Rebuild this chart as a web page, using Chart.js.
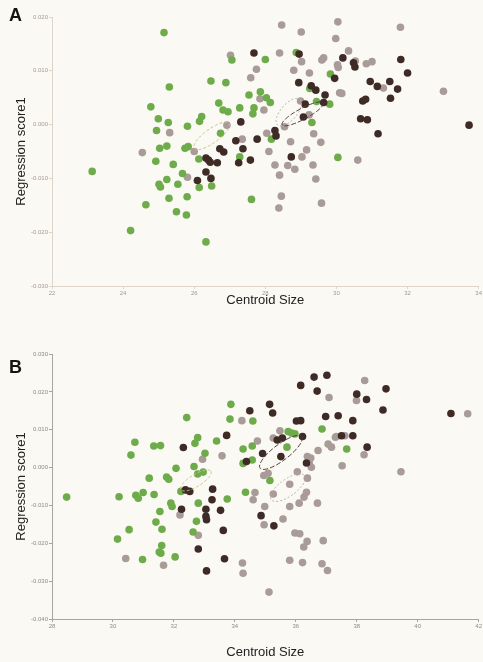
<!DOCTYPE html>
<html>
<head>
<meta charset="utf-8">
<script src="https://cdn.jsdelivr.net/npm/chart.js@4.4.0/dist/chart.umd.min.js"></script>
<style>
  body { margin: 0; background: #fbf9f3; }
  #wrap { position: relative; width: 483px; height: 662px; font-family: "Liberation Sans", Arial, sans-serif; }
  #wrap canvas { position: absolute; left: 0; }
  .tag { position: absolute; left: 9px; font-weight: bold; font-size: 18px; line-height: 1; color: #151515; }
</style>
</head>
<body>
<div id="wrap">
  <canvas id="chartA" width="483" height="330" style="top:0"></canvas>
  <canvas id="chartB" width="483" height="332" style="top:330px"></canvas>
  <div class="tag" style="top:6px">A</div>
  <div class="tag" style="top:358px">B</div>
</div>
<script>
// Panel A: centroid size vs regression score, three groups
const aGreen = [
  [25.15,0.0171],[25.30,0.0070],[24.78,0.0033],[24.99,0.0011],[25.27,0.0004],[25.81,-0.0003],
  [24.94,-0.0011],[25.03,-0.0044],[25.23,-0.0040],[25.74,-0.0044],[25.83,-0.0041],[24.92,-0.0068],
  [25.41,-0.0074],[25.67,-0.0091],[23.13,-0.0087],[25.23,-0.0102],[25.01,-0.0111],[25.05,-0.0116],
  [25.54,-0.0111],[25.29,-0.0137],[25.80,-0.0134],[24.64,-0.0149],[25.50,-0.0162],[25.78,-0.0168],
  [24.21,-0.0197],[26.13,-0.0064],[26.15,0.0006],[26.21,0.0015],[27.06,0.0120],[28.00,0.0121],
  [28.87,0.0134],[29.83,0.0094],[26.47,0.0081],[26.89,0.0078],[29.25,0.0067],[27.86,0.0061],
  [27.54,0.0055],[28.03,0.0050],[28.14,0.0041],[26.69,0.0040],[26.81,0.0027],[26.95,0.0024],
  [27.28,0.0031],[27.68,0.0031],[27.65,0.0020],[29.44,0.0043],[29.81,0.0038],[29.31,0.0004],
  [26.74,-0.0016],[28.17,-0.0027],[27.28,-0.0060],[26.14,-0.0117],[26.49,-0.0114],[27.61,-0.0139],
  [30.04,-0.0061],[26.33,-0.0218]
];
const aGray = [
  [25.31,-0.0015],[24.54,-0.0052],[26.00,-0.0050],[25.81,-0.0098],[28.46,0.0185],[29.01,0.0172],
  [29.98,0.0160],[27.02,0.0129],[28.40,0.0133],[29.02,0.0117],[29.64,0.0124],[29.59,0.0120],
  [27.75,0.0103],[27.59,0.0087],[28.80,0.0101],[29.24,0.0096],[30.03,0.0111],[27.85,0.0048],
  [27.96,0.0027],[28.99,0.0044],[29.23,0.0018],[26.92,-0.0001],[28.54,-0.0004],[28.04,-0.0016],
  [27.35,-0.0027],[28.71,-0.0032],[29.36,-0.0017],[29.56,-0.0033],[28.10,-0.0050],[29.16,-0.0047],
  [29.03,-0.0060],[28.27,-0.0075],[28.63,-0.0076],[28.83,-0.0083],[29.34,-0.0075],[28.40,-0.0094],
  [29.42,-0.0101],[28.45,-0.0133],[28.38,-0.0155],[29.58,-0.0146],[30.09,0.0059],[30.15,0.0058],
  [30.04,0.0191],[31.80,0.0181],[30.34,0.0137],[30.53,0.0118],[30.84,0.0113],[31.00,0.0117],
  [30.05,0.0106],[31.32,0.0068],[33.01,0.0062],[30.60,-0.0066]
];
const aDark = [
  [26.09,-0.0104],[27.68,0.0133],[28.95,0.0131],[29.95,0.0086],[28.94,0.0078],[29.29,0.0072],
  [29.42,0.0064],[29.68,0.0055],[29.64,0.0041],[29.12,0.0038],[29.07,0.0014],[27.31,0.0005],
  [28.27,-0.0011],[28.30,-0.0021],[27.17,-0.0030],[27.77,-0.0027],[27.37,-0.0045],[26.72,-0.0045],
  [26.83,-0.0051],[26.33,-0.0062],[26.40,-0.0066],[26.45,-0.0070],[26.65,-0.0071],[27.25,-0.0071],
  [27.58,-0.0066],[28.73,-0.0060],[26.33,-0.0088],[26.47,-0.0100],[30.18,0.0124],[30.48,0.0115],
  [30.52,0.0107],[31.81,0.0121],[32.00,0.0096],[30.95,0.0080],[31.15,0.0071],[31.50,0.0080],
  [31.72,0.0066],[31.52,0.0049],[30.74,0.0044],[30.82,0.0047],[30.68,0.0011],[30.87,0.0009],
  [31.17,-0.0017],[33.73,-0.0001]
];
// group ellipses: centre, major half-axis, minor half-axis (data units)
const aRings = [
  { group: 'green', c: [26.49,-0.0021], a: [0.490,0.00232], b: [0.114,-0.00106] },
  { group: 'gray',  c: [28.66,0.0023],  a: [0.315,0.00238], b: [0.169,-0.00098] },
  { group: 'dark',  c: [29.05,0.0020],  a: [0.576,0.00204], b: [0.073,-0.00089] }
];
const aXTicks = [22, 34, 2];
const aYTicks = [-0.03, 0.02, 0.01];

// Panel B
const bGreen = [
  [32.42,0.0132],[30.72,0.0067],[30.59,0.0033],[31.34,0.0057],[31.56,0.0058],[32.69,0.0064],
  [32.78,0.0079],[32.07,-0.0002],[31.19,-0.0028],[31.76,-0.0025],[31.83,-0.0031],[32.66,0.0003],
  [32.78,-0.0017],[28.48,-0.0078],[30.20,-0.0077],[30.75,-0.0073],[30.83,-0.0081],[30.99,-0.0066],
  [31.35,-0.0071],[31.90,-0.0094],[31.94,-0.0103],[32.23,-0.0063],[32.80,-0.0094],[31.54,-0.0116],
  [31.41,-0.0144],[31.61,-0.0163],[30.53,-0.0164],[30.15,-0.0189],[32.63,-0.0170],[32.74,-0.0142],
  [31.60,-0.0206],[31.52,-0.0223],[31.57,-0.0226],[30.97,-0.0243],[32.04,-0.0236],[33.87,0.0167],
  [33.84,0.0128],[34.59,0.0123],[33.40,0.0070],[34.27,0.0049],[34.57,0.0057],[34.27,0.0011],
  [34.57,0.0020],[35.75,0.0095],[35.86,0.0091],[35.97,0.0089],[35.71,0.0054],[35.15,-0.0034],
  [34.35,-0.0065],[33.75,-0.0083],[33.02,0.0038],[32.96,-0.0012],[36.86,0.0102],[37.67,0.0049]
];
const bGray = [
  [30.42,-0.0240],[31.66,-0.0258],[32.20,-0.0125],[32.80,-0.0179],[37.09,0.0185],[34.23,0.0124],
  [35.48,0.0097],[35.26,0.0078],[34.74,0.0070],[33.58,0.0031],[36.38,0.0029],[36.49,0.0025],
  [36.44,0.0012],[36.51,0.0001],[36.73,0.0045],[37.06,0.0062],[37.17,0.0054],[37.33,0.0082],
  [34.95,-0.0021],[35.09,-0.0015],[36.05,-0.0011],[36.38,-0.0028],[35.80,-0.0044],[35.26,-0.0070],
  [34.66,-0.0066],[34.60,-0.0085],[36.35,-0.0065],[36.27,-0.0078],[36.11,-0.0094],[35.80,-0.0103],
  [36.71,-0.0094],[34.98,-0.0103],[34.96,-0.0151],[35.58,-0.0136],[35.97,-0.0173],[36.13,-0.0175],
  [36.37,-0.0195],[36.26,-0.0210],[36.90,-0.0193],[35.80,-0.0245],[36.22,-0.0251],[36.86,-0.0254],
  [37.04,-0.0272],[34.25,-0.0252],[34.27,-0.0279],[35.12,-0.0329],[32.94,0.0022],[38.26,0.0230],
  [37.99,0.0177],[37.30,0.0080],[37.61,0.0084],[38.24,0.0034],[37.52,0.0005],[39.45,-0.0011],
  [41.64,0.0142]
];
const bDark = [
  [32.31,0.0053],[32.38,-0.0059],[32.52,-0.0063],[32.25,-0.0110],[32.80,-0.0215],[36.60,0.0239],
  [37.02,0.0244],[36.16,0.0217],[36.70,0.0202],[35.14,0.0167],[34.49,0.0150],[35.24,0.0144],
  [36.02,0.0123],[36.16,0.0124],[36.98,0.0135],[37.39,0.0137],[33.73,0.0085],[35.39,0.0073],
  [35.56,0.0078],[36.22,0.0082],[34.91,0.0037],[35.51,0.0029],[34.38,0.0016],[36.35,0.0012],
  [33.27,-0.0057],[33.25,-0.0085],[33.05,-0.0110],[33.53,-0.0113],[33.05,-0.0129],[33.07,-0.0138],
  [34.86,-0.0127],[35.28,-0.0154],[33.62,-0.0166],[33.66,-0.0241],[33.07,-0.0273],[38.96,0.0208],
  [38.00,0.0194],[38.32,0.0180],[38.86,0.0152],[37.87,0.0124],[37.50,0.0084],[37.87,0.0084],
  [38.34,0.0054],[41.09,0.0143]
];
const bRings = [
  { group: 'green', c: [32.72,-0.0034], a: [0.492,0.00243], b: [0.102,-0.00135] },
  { group: 'dark',  c: [35.51,0.0040],  a: [0.682,0.00417], b: [0.159,-0.00168] },
  { group: 'gray',  c: [35.74,-0.0053], a: [0.547,0.00317], b: [0.163,-0.00182] }
];
const bXTicks = [28, 42, 2];
const bYTicks = [-0.04, 0.03, 0.01];

const dotColors = { green: '#6eac4b', gray: '#a99b97', dark: '#3e2b26' };
const ringStyles = {
  green: { color: '#c9c28e', dash: [3, 2] },
  gray:  { color: '#b9aea9', dash: [2, 2] },
  dark:  { color: '#4d3c37', dash: [5, 2] }
};

// outline each group's ellipse, mapped through the chart scales
function ringPlugin(rings) {
  return {
    id: 'rings',
    afterDatasetsDraw(chart) {
      const { ctx, scales: { x, y } } = chart;
      rings.forEach(r => {
        const st = ringStyles[r.group];
        ctx.save();
        ctx.strokeStyle = st.color;
        ctx.lineWidth = 1;
        ctx.setLineDash(st.dash);
        ctx.beginPath();
        for (let i = 0; i <= 72; i++) {
          const t = i / 72 * Math.PI * 2;
          const vx = r.c[0] + Math.cos(t) * r.a[0] + Math.sin(t) * r.b[0];
          const vy = r.c[1] + Math.cos(t) * r.a[1] + Math.sin(t) * r.b[1];
          const px = x.getPixelForValue(vx), py = y.getPixelForValue(vy);
          if (i === 0) ctx.moveTo(px, py); else ctx.lineTo(px, py);
        }
        ctx.stroke();
        ctx.restore();
      });
    }
  };
}

function buildPanel(id, groups, rings, xt, yt, frame) {
  const axisColor = frame.axis;
  const tickFont = { family: 'Liberation Sans', size: 6 };
  new Chart(document.getElementById(id), {
    type: 'scatter',
    data: {
      datasets: groups.map(([name, pts], i) => ({
        data: pts.map(([x, y]) => ({ x, y })),
        backgroundColor: dotColors[name],
        borderWidth: 0,
        pointRadius: 3.8,
        pointHoverRadius: 3.8,
        order: i
      }))
    },
    options: {
      responsive: false,
      animation: false,
      devicePixelRatio: 1,
      layout: { padding: frame.pad },
      plugins: { legend: { display: false }, tooltip: { enabled: false } },
      scales: {
        x: {
          type: 'linear', min: xt[0], max: xt[1],
          ticks: { stepSize: xt[2], font: tickFont, color: frame.tick, padding: 1, maxRotation: 0, autoSkip: false },
          grid: { drawOnChartArea: false, tickLength: 3, color: axisColor },
          border: { color: axisColor },
          title: { display: true, text: 'Centroid Size', color: '#222',
                   font: { family: 'Liberation Sans', size: 13 }, padding: { top: 0, bottom: frame.xTitlePad } },
          afterFit(s) { s.height = frame.xh; }
        },
        y: {
          type: 'linear', min: yt[0], max: yt[1],
          ticks: { stepSize: yt[2], font: tickFont, color: frame.tick, padding: 1, autoSkip: false,
                   callback: v => v.toFixed(3) },
          grid: { drawOnChartArea: false, tickLength: 3, color: axisColor },
          border: { color: axisColor },
          title: { display: true, text: 'Regression score1', color: '#222',
                   font: { family: 'Liberation Sans', size: 13 }, padding: { top: 14, bottom: 0 } },
          afterFit(s) { s.width = 52; }
        }
      }
    },
    plugins: [ringPlugin(rings)]
  });
}

buildPanel('chartA', [['dark', aDark], ['green', aGreen], ['gray', aGray]], aRings, aXTicks, aYTicks,
  { pad: { top: 17, right: 3, left: 0, bottom: 0 }, xh: 44, xTitlePad: 22, axis: '#ddd4ca', tick: '#a39a92' });
buildPanel('chartB', [['dark', bDark], ['green', bGreen], ['gray', bGray]], bRings, bXTicks, bYTicks,
  { pad: { top: 24, right: 4, left: 0, bottom: 0 }, xh: 43, xTitlePad: 2, axis: '#aaa49e', tick: '#8f8a85' });
</script>
</body>
</html>
